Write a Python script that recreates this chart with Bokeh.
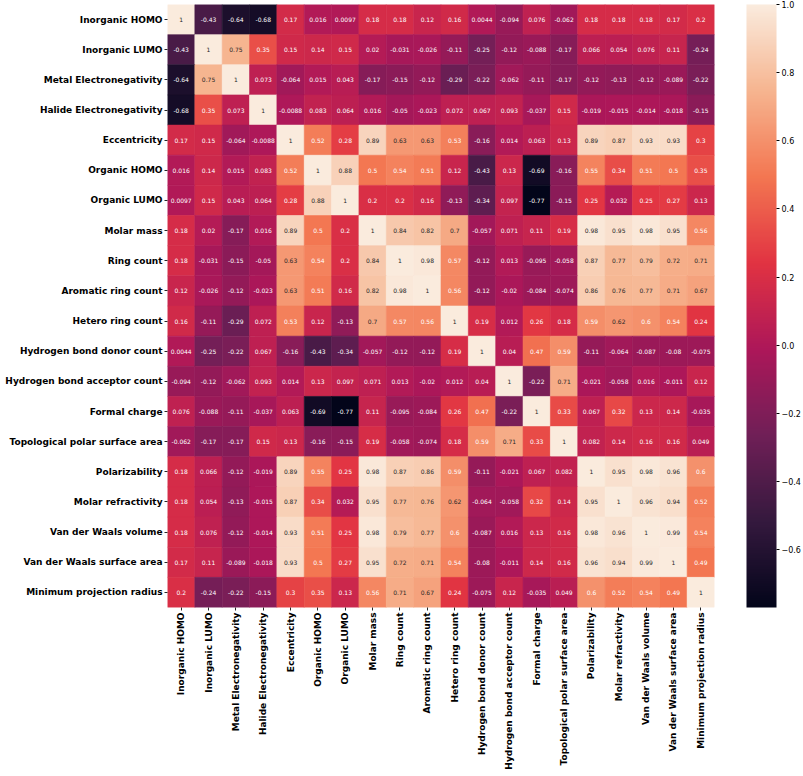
import math
from bokeh.plotting import figure
from bokeh.models import (ColumnDataSource, LinearColorMapper, ColorBar, FixedTicker,
                          CustomJSTickFormatter, FactorRange)
from bokeh.transform import transform
from bokeh.core.properties import value
from bokeh.embed import file_html
from bokeh.resources import INLINE

labels = ["Inorganic HOMO", "Inorganic LUMO", "Metal Electronegativity", "Halide Electronegativity",
          "Eccentricity", "Organic HOMO", "Organic LUMO", "Molar mass", "Ring count",
          "Aromatic ring count", "Hetero ring count", "Hydrogen bond donor count",
          "Hydrogen bond acceptor count", "Formal charge", "Topological polar surface area",
          "Polarizability", "Molar refractivity", "Van der Waals volume",
          "Van der Waals surface area", "Minimum projection radius"]

r_inorganic_homo = [1, -0.43, -0.64, -0.68, 0.17, 0.016, 0.0097, 0.18, 0.18, 0.12, 0.16, 0.0044, -0.094, 0.076, -0.062, 0.18, 0.18, 0.18, 0.17, 0.2]
r_inorganic_lumo = [-0.43, 1, 0.75, 0.35, 0.15, 0.14, 0.15, 0.02, -0.031, -0.026, -0.11, -0.25, -0.12, -0.088, -0.17, 0.066, 0.054, 0.076, 0.11, -0.24]
r_metal_en = [-0.64, 0.75, 1, 0.073, -0.064, 0.015, 0.043, -0.17, -0.15, -0.12, -0.29, -0.22, -0.062, -0.11, -0.17, -0.12, -0.13, -0.12, -0.089, -0.22]
r_halide_en = [-0.68, 0.35, 0.073, 1, -0.0088, 0.083, 0.064, 0.016, -0.05, -0.023, 0.072, 0.067, 0.093, -0.037, 0.15, -0.019, -0.015, -0.014, -0.018, -0.15]
r_eccentricity = [0.17, 0.15, -0.064, -0.0088, 1, 0.52, 0.28, 0.89, 0.63, 0.63, 0.53, -0.16, 0.014, 0.063, 0.13, 0.89, 0.87, 0.93, 0.93, 0.3]
r_organic_homo = [0.016, 0.14, 0.015, 0.083, 0.52, 1, 0.88, 0.5, 0.54, 0.51, 0.12, -0.43, 0.13, -0.69, -0.16, 0.55, 0.34, 0.51, 0.5, 0.35]
r_organic_lumo = [0.0097, 0.15, 0.043, 0.064, 0.28, 0.88, 1, 0.2, 0.2, 0.16, -0.13, -0.34, 0.097, -0.77, -0.15, 0.25, 0.032, 0.25, 0.27, 0.13]
r_molar_mass = [0.18, 0.02, -0.17, 0.016, 0.89, 0.5, 0.2, 1, 0.84, 0.82, 0.7, -0.057, 0.071, 0.11, 0.19, 0.98, 0.95, 0.98, 0.95, 0.56]
r_ring_count = [0.18, -0.031, -0.15, -0.05, 0.63, 0.54, 0.2, 0.84, 1, 0.98, 0.57, -0.12, 0.013, -0.095, -0.058, 0.87, 0.77, 0.79, 0.72, 0.71]
r_aromatic_ring = [0.12, -0.026, -0.12, -0.023, 0.63, 0.51, 0.16, 0.82, 0.98, 1, 0.56, -0.12, -0.02, -0.084, -0.074, 0.86, 0.76, 0.77, 0.71, 0.67]
r_hetero_ring = [0.16, -0.11, -0.29, 0.072, 0.53, 0.12, -0.13, 0.7, 0.57, 0.56, 1, 0.19, 0.012, 0.26, 0.18, 0.59, 0.62, 0.6, 0.54, 0.24]
r_hbd = [0.0044, -0.25, -0.22, 0.067, -0.16, -0.43, -0.34, -0.057, -0.12, -0.12, 0.19, 1, 0.04, 0.47, 0.59, -0.11, -0.064, -0.087, -0.08, -0.075]
r_hba = [-0.094, -0.12, -0.062, 0.093, 0.014, 0.13, 0.097, 0.071, 0.013, -0.02, 0.012, 0.04, 1, -0.22, 0.71, -0.021, -0.058, 0.016, -0.011, 0.12]
r_formal_charge = [0.076, -0.088, -0.11, -0.037, 0.063, -0.69, -0.77, 0.11, -0.095, -0.084, 0.26, 0.47, -0.22, 1, 0.33, 0.067, 0.32, 0.13, 0.14, -0.035]
r_tpsa = [-0.062, -0.17, -0.17, 0.15, 0.13, -0.16, -0.15, 0.19, -0.058, -0.074, 0.18, 0.59, 0.71, 0.33, 1, 0.082, 0.14, 0.16, 0.16, 0.049]
r_polarizability = [0.18, 0.066, -0.12, -0.019, 0.89, 0.55, 0.25, 0.98, 0.87, 0.86, 0.59, -0.11, -0.021, 0.067, 0.082, 1, 0.95, 0.98, 0.96, 0.6]
r_molar_refr = [0.18, 0.054, -0.13, -0.015, 0.87, 0.34, 0.032, 0.95, 0.77, 0.76, 0.62, -0.064, -0.058, 0.32, 0.14, 0.95, 1, 0.96, 0.94, 0.52]
r_vdw_volume = [0.18, 0.076, -0.12, -0.014, 0.93, 0.51, 0.25, 0.98, 0.79, 0.77, 0.6, -0.087, 0.016, 0.13, 0.16, 0.98, 0.96, 1, 0.99, 0.54]
r_vdw_surface = [0.17, 0.11, -0.089, -0.018, 0.93, 0.5, 0.27, 0.95, 0.72, 0.71, 0.54, -0.08, -0.011, 0.14, 0.16, 0.96, 0.94, 0.99, 1, 0.49]
r_min_proj = [0.2, -0.24, -0.22, -0.15, 0.3, 0.35, 0.13, 0.56, 0.71, 0.67, 0.24, -0.075, 0.12, -0.035, 0.049, 0.6, 0.52, 0.54, 0.49, 1]

cbar_ticks = [-0.6, -0.4, -0.2, 0.0, 0.2, 0.4, 0.6, 0.8, 1.0]

corr = [r_inorganic_homo, r_inorganic_lumo, r_metal_en, r_halide_en, r_eccentricity,
        r_organic_homo, r_organic_lumo, r_molar_mass, r_ring_count, r_aromatic_ring,
        r_hetero_ring, r_hbd, r_hba, r_formal_charge, r_tpsa, r_polarizability,
        r_molar_refr, r_vdw_volume, r_vdw_surface, r_min_proj]

# approximate seaborn "rocket" colormap
anchors = [(0.0, "#03051a"), (1/7, "#35193e"), (2/7, "#701f57"), (3/7, "#ad1759"),
           (4/7, "#e13342"), (5/7, "#f37651"), (6/7, "#f6b48f"), (1.0, "#faebdd")]

def hex2rgb(h):
    return tuple(int(h[i:i + 2], 16) for i in (1, 3, 5))

def cmap(t):
    for k in range(len(anchors) - 1):
        t0, c0 = anchors[k]
        t1, c1 = anchors[k + 1]
        if t <= t1 or k == len(anchors) - 2:
            f = (t - t0) / (t1 - t0)
            f = min(max(f, 0), 1)
            a, b = hex2rgb(c0), hex2rgb(c1)
            return tuple(a[i] + (b[i] - a[i]) * f for i in range(3))

N = 256
palette = ["#%02x%02x%02x" % tuple(int(round(c)) for c in cmap(i / (N - 1))) for i in range(N)]

allv = [v for row in corr for v in row]
vmin, vmax = min(allv), max(allv)

def lum(rgb):
    lin = []
    for c in rgb:
        c = c / 255
        lin.append(c / 12.92 if c <= 0.03928 else ((c + 0.055) / 1.055) ** 2.4)
    return 0.2126 * lin[0] + 0.7152 * lin[1] + 0.0722 * lin[2]

xs, ys, vs, txt, tcol = [], [], [], [], []
for i, row in enumerate(corr):
    for j, v in enumerate(row):
        xs.append(labels[j])
        ys.append(labels[i])
        vs.append(v)
        txt.append(format(v, ".2g"))
        idx = int((v - vmin) / (vmax - vmin) * (N - 1) + 0.5)
        rgb = hex2rgb(palette[idx])
        tcol.append("#262626" if lum(rgb) > 0.408 else "#ffffff")

src = ColumnDataSource(dict(x=xs, y=ys, v=vs, txt=txt, tc=tcol))
mapper = LinearColorMapper(palette=palette, low=vmin, high=vmax)

p = figure(width=803, height=776, x_range=FactorRange(*labels),
           y_range=FactorRange(*reversed(labels)), output_backend="svg",
           toolbar_location=None, min_border_left=167, min_border_right=85,
           min_border_top=4, min_border_bottom=169)

p.rect(x="x", y="y", width=1, height=1, source=src,
       fill_color=transform("v", mapper), line_color=transform("v", mapper), line_width=0.6)
p.text(x="x", y="y", text="txt", text_color="tc", text_align="center",
       text_baseline="middle", text_font=value("DejaVu Sans"),
       text_font_size=value("6px"), source=src)

p.xaxis.major_label_orientation = math.pi / 2
for ax in p.axis:
    ax.major_label_text_font = "DejaVu Sans"
    ax.major_label_text_font_style = "bold"
    ax.major_label_text_font_size = "9px"
    ax.major_label_text_color = "black"
    ax.axis_line_color = None
    ax.major_tick_line_color = "#262626"
    ax.major_tick_in = 0
    ax.major_tick_out = 3
    ax.minor_tick_line_color = None
    ax.major_label_standoff = 2
p.grid.grid_line_color = None
p.outline_line_color = None

cb = ColorBar(color_mapper=mapper, ticker=FixedTicker(ticks=cbar_ticks),
              formatter=CustomJSTickFormatter(code="return tick.toFixed(1).replace('-', '\u2212')"),
              width=30, height=603, padding=0, margin=0, location=(32, 0),
              major_label_text_font="DejaVu Sans", major_label_text_font_size="8px",
              major_label_text_color="black", label_standoff=2,
              major_tick_in=0, major_tick_out=3, major_tick_line_color="black",
              minor_tick_line_color=None, bar_line_color=None,
              background_fill_color=None, border_line_color=None)
p.add_layout(cb, "right")

open("out.html", "w").write(file_html(p, INLINE))
